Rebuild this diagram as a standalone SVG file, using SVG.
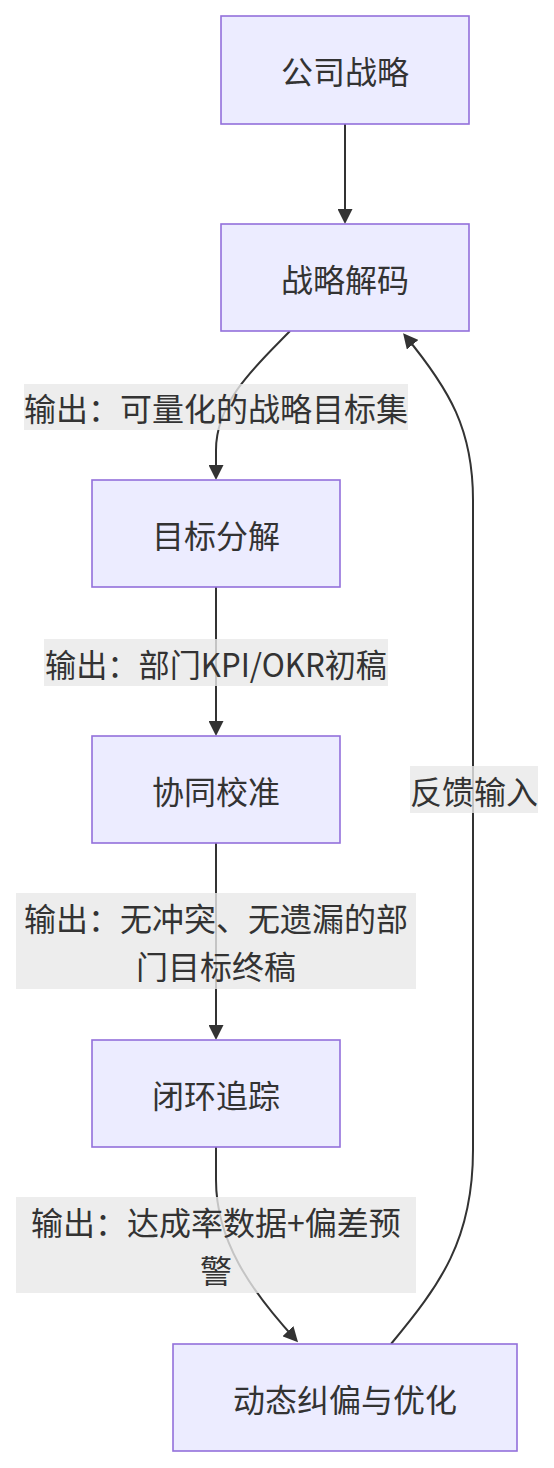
<svg xmlns="http://www.w3.org/2000/svg" width="554" height="1468" viewBox="0 0 554 1468">
<style>
.node rect{fill:#ECECFF;stroke:#9370DB;stroke-width:1.6}
text{font-family:"Noto Sans CJK SC","Noto Sans",sans-serif;font-size:32px;fill:#333;text-anchor:middle;dominant-baseline:central}
.edge{fill:none;stroke:#333;stroke-width:2}
.lbl rect{fill:#e8e8e8;fill-opacity:0.8}
</style>
<defs>
<marker id="arr" viewBox="0 0 10 10" refX="8" refY="5" markerUnits="userSpaceOnUse" markerWidth="15" markerHeight="15" orient="auto">
<path d="M0,0 L10,5 L0,10 z" fill="#333"/>
</marker>
</defs>
<rect width="554" height="1468" fill="#ffffff"/>
<g id="connectors">
<path class="edge" d="M345,124 L345,221" marker-end="url(#arr)"/>
<path class="edge" d="M290,331 C260,362 216,400 216,450 L216,477" marker-end="url(#arr)"/>
<path class="edge" d="M216,587 L216,733" marker-end="url(#arr)"/>
<path class="edge" d="M216,843 L216,1037" marker-end="url(#arr)"/>
<path class="edge" d="M216,1147 L216,1180 C216,1240 250,1290 296,1340" marker-end="url(#arr)"/>
<path class="edge" d="M391,1344 C440,1285 473,1240 473,1150 L473,500 C473,430 450,390 405,335.5" marker-end="url(#arr)"/>
</g>
<g id="edge-labels">
<g class="lbl" id="label-1"><rect x="24" y="384" width="384" height="46"/><text x="216" y="407">输出：可量化的战略目标集</text></g>
<g class="lbl" id="label-2"><rect x="44" y="639" width="344" height="47"/><text x="216" y="662.5" textLength="342" lengthAdjust="spacingAndGlyphs">输出：部门KPI/OKR初稿</text></g>
<g class="lbl" id="label-3"><rect x="16" y="893" width="400" height="96"/><text x="216" y="917">输出：无冲突、无遗漏的部</text><text x="216" y="965">门目标终稿</text></g>
<g class="lbl" id="label-4"><rect x="16" y="1197" width="400" height="96"/><text x="216" y="1221">输出：达成率数据+偏差预</text><text x="216" y="1269">警</text></g>
<g class="lbl" id="label-5"><rect x="410" y="766" width="128" height="47"/><text x="474" y="789.5">反馈输入</text></g>
</g>
<g class="node" id="node-company"><rect x="221" y="16" width="248" height="108"/><text x="345" y="70">公司战略</text></g>
<g class="node" id="node-decode"><rect x="221" y="224" width="248" height="107"/><text x="345" y="277.5">战略解码</text></g>
<g class="node" id="node-split"><rect x="92" y="480" width="248" height="107"/><text x="216" y="533.5">目标分解</text></g>
<g class="node" id="node-align"><rect x="92" y="736" width="248" height="107"/><text x="216" y="789.5">协同校准</text></g>
<g class="node" id="node-track"><rect x="92" y="1040" width="248" height="107"/><text x="216" y="1093.5">闭环追踪</text></g>
<g class="node" id="node-optimize"><rect x="173" y="1344" width="344" height="107"/><text x="345" y="1397.5">动态纠偏与优化</text></g>
</svg>
